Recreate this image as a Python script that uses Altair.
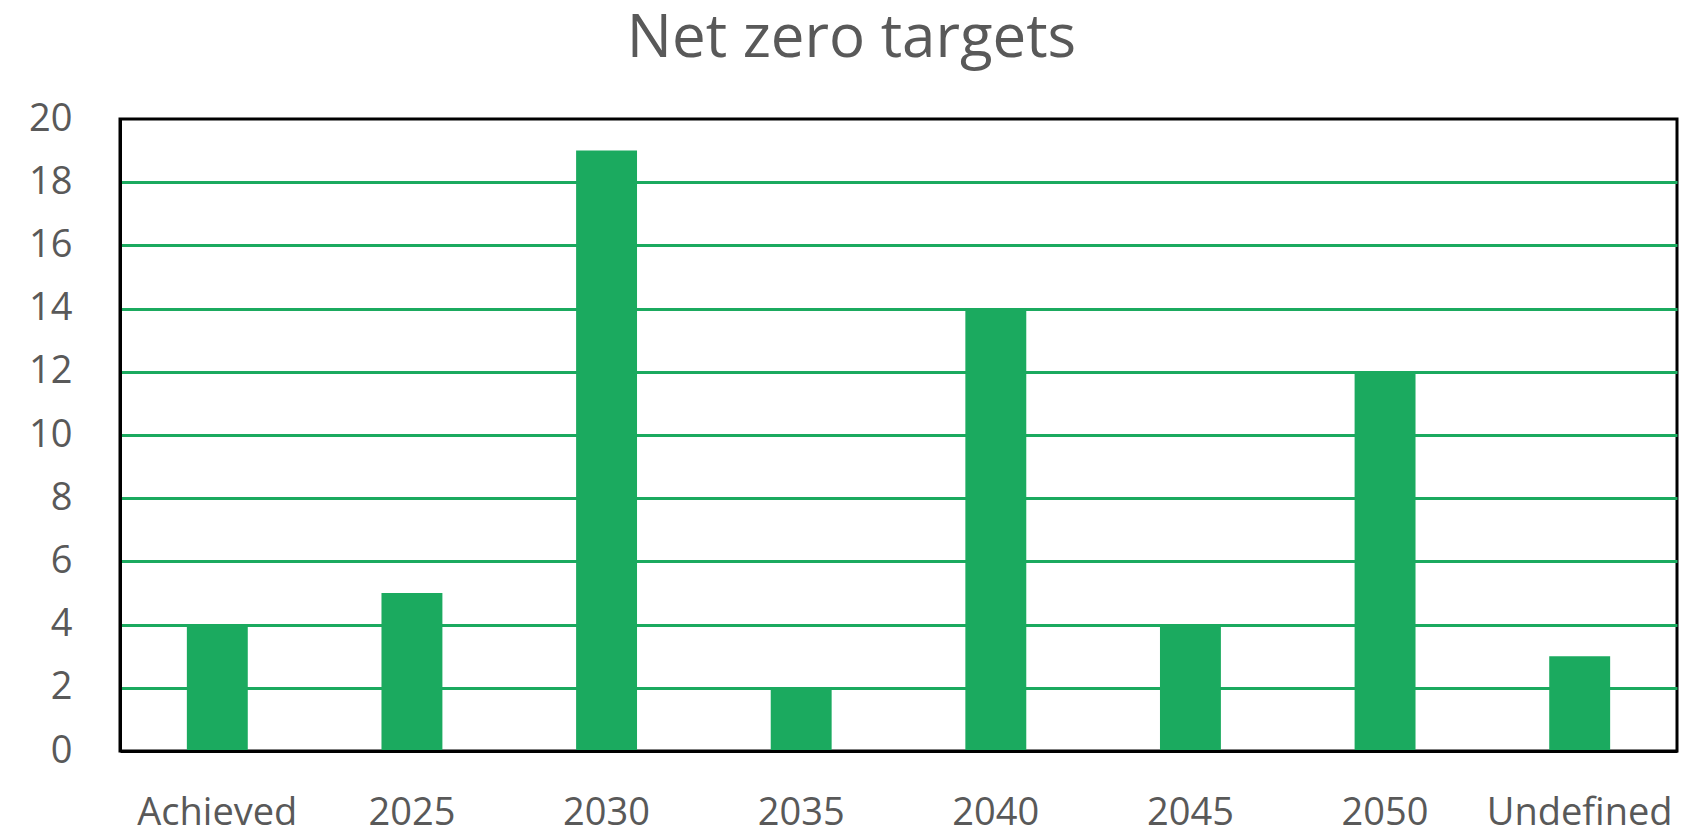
import altair as alt
import pandas as pd

categories = ["Achieved", "2025", "2030", "2035", "2040", "2045", "2050", "Undefined"]
values = [4, 5, 19, 2, 14, 4, 12, 3]
y_ticks = [0, 2, 4, 6, 8, 10, 12, 14, 16, 18, 20]

df = pd.DataFrame({"target": categories, "count": values})

GREEN = "#1BAA5F"
GREY = "#595959"
FONT = "Open Sans"

chart = alt.Chart(df).mark_bar(color=GREEN).encode(
    x=alt.X(
        "target:N",
        sort=categories,
        title=None,
        scale=alt.Scale(paddingInner=0.687, paddingOuter=0.3435),
        axis=alt.Axis(
            labelAngle=0,
            labelFont=FONT,
            labelFontSize=38,
            labelColor=GREY,
            labelLimit=0,
            ticks=False,
            labelPadding=43,
            domain=True,
            domainColor="black",
            domainWidth=3,
            grid=False,
            zindex=1,
        ),
    ),
    y=alt.Y(
        "count:Q",
        title=None,
        scale=alt.Scale(domain=[0, 20], nice=False),
        axis=alt.Axis(
            values=y_ticks,
            labelFont=FONT,
            labelFontSize=38,
            labelColor=GREY,
            ticks=False,
            labelPadding=48,
            domain=True,
            domainColor="black",
            domainWidth=3,
            grid=True,
            gridColor=GREEN,
            gridWidth=3,
            gridOpacity={"condition": {"test": "datum.value == 0 || datum.value == 20", "value": 0}, "value": 1},
            zindex=0,
        ),
    ),
).properties(
    width=1557,
    height=632,
    title=alt.TitleParams(
        "Net zero targets",
        font=FONT,
        fontSize=60,
        fontWeight="normal",
        color=GREY,
        anchor="middle",
        dx=-47,
        offset=30,
    ),
    autosize=alt.AutoSizeParams(type="none"),
    padding={"left": 112, "top": 111, "right": 16, "bottom": 75},
).configure(
    background="white",
).configure_view(
    stroke="black",
    strokeWidth=3,
)

chart.save("out.html", embed_options={"renderer": "svg", "actions": False})
